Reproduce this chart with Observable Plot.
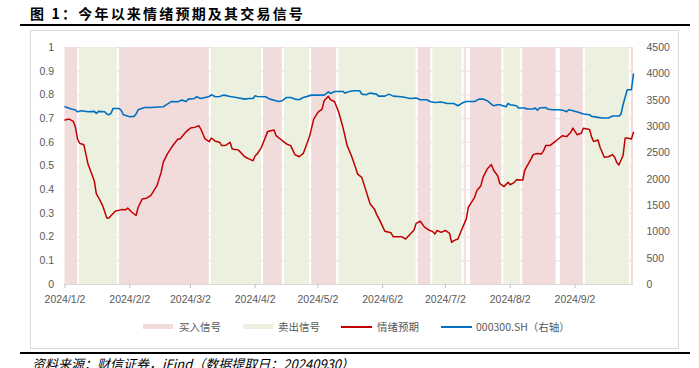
<!DOCTYPE html>
<html><head><meta charset="utf-8">
<script src="https://cdn.jsdelivr.net/npm/d3@7"></script>
<script src="https://cdn.jsdelivr.net/npm/@observablehq/plot@0.6"></script>
<style>
body{margin:0;width:699px;height:368px;overflow:hidden;background:#fff;position:relative;font-family:"Liberation Sans","Noto Sans CJK SC",sans-serif;}
#title{position:absolute;left:30px;top:3px;font-family:"Noto Sans CJK SC",sans-serif;font-weight:bold;font-size:14px;line-height:20px;letter-spacing:2.2px;color:#000;white-space:nowrap;}
#tline{position:absolute;left:20px;top:24px;width:670px;height:0;border-top:2px solid #000;}
#frame{position:absolute;left:30px;top:30px;width:647px;height:317px;border:1px solid #d9d9d9;box-sizing:content-box;}
#chart{position:absolute;left:0;top:32px;}
.lg{position:absolute;top:319px;font-size:10.5px;line-height:15px;color:#595959;white-space:nowrap;font-family:"Noto Sans CJK SC",sans-serif;}
.sw{position:absolute;}
#bline{position:absolute;left:20px;top:352px;width:670px;height:0;border-top:2px solid #000;}
#caption{position:absolute;left:32px;top:355px;font-family:"Noto Sans CJK SC",serif;font-style:italic;font-size:13px;line-height:18px;color:#000;white-space:nowrap;}
</style></head>
<body>
<div id="title">图 1：今年以来情绪预期及其交易信号</div>
<div id="tline"></div>
<div id="frame"></div>
<div id="chart"></div>
<div class="sw" style="left:143px;top:324px;width:30px;height:5px;background:#f2dcdb"></div>
<div class="lg" style="left:179px">买入信号</div>
<div class="sw" style="left:243px;top:324px;width:30px;height:5px;background:#ebf1de"></div>
<div class="lg" style="left:278px">卖出信号</div>
<div class="sw" style="left:341px;top:325.5px;width:31px;height:2px;background:#c00000"></div>
<div class="lg" style="left:377px">情绪预期</div>
<div class="sw" style="left:441px;top:325.5px;width:31px;height:2px;background:#0070c0"></div>
<div class="lg" style="left:476px">000300.SH（右轴）</div>
<div id="bline"></div>
<div id="caption">资料来源：财信证券，iFind（数据提取日：20240930）</div>
<script>
// ---- data ----
const bandStart = ["01-02","01-09","01-28","03-12","04-06","04-16","04-29","05-12","06-19","06-26","07-11","07-14","07-30","08-08","08-26","09-07","09-29"];
const bandEnd   = ["01-08","01-27","03-11","04-05","04-15","04-28","05-11","06-18","06-25","07-10","07-12","07-29","08-07","08-24","09-06","09-28","09-30"];
const bandType  = ["买入","卖出","买入","卖出","买入","卖出","买入","卖出","买入","卖出","买入","买入","卖出","买入","买入","卖出","买入"];

const sentDates = ["01-02","01-04","01-06","01-07","01-08","01-09","01-11","01-12","01-13","01-16","01-17","01-18","01-20","01-22","01-23","01-25","01-26","01-29","01-31","02-01","02-03","02-05","02-06","02-08","02-10","02-12","02-13","02-15","02-17","02-18","02-20","02-22","02-25","02-26","02-28","02-29","03-02","03-04","03-06","03-07","03-09","03-11","03-12","03-14","03-16","03-17","03-19","03-21","03-22","03-25","03-28","03-30","04-01","04-02","04-03","04-05","04-08","04-11","04-12","04-14","04-17","04-19","04-21","04-23","04-25","04-28","04-30","05-02","05-04","05-05","05-07","05-08","05-10","05-12","05-14","05-16","05-18","05-20","05-21","05-23","05-25","05-27","05-29","05-30","06-01","06-03","06-06","06-07","06-10","06-11","06-13","06-15","06-17","06-18","06-20","06-22","06-24","06-26","06-27","06-28","06-30","07-02","07-04","07-05","07-06","07-08","07-10","07-12","07-13","07-14","07-16","07-17","07-19","07-20","07-22","07-24","07-25","07-27","07-28","07-30","08-01","08-02","08-04","08-05","08-08","08-09","08-12","08-13","08-15","08-17","08-18","08-19","08-21","08-23","08-25","08-27","08-29","08-31","09-01","09-03","09-05","09-06","09-09","09-10","09-11","09-13","09-14","09-16","09-18","09-20","09-21","09-22","09-23","09-25","09-26","09-27","09-29","09-30"];
const sentValues = [0.694,0.698,0.688,0.663,0.614,0.596,0.59,0.55,0.508,0.438,0.382,0.368,0.333,0.281,0.281,0.30,0.309,0.316,0.315,0.323,0.305,0.291,0.326,0.361,0.364,0.375,0.389,0.417,0.473,0.515,0.551,0.579,0.614,0.614,0.635,0.645,0.66,0.663,0.67,0.656,0.614,0.603,0.618,0.604,0.60,0.586,0.588,0.60,0.572,0.567,0.539,0.53,0.522,0.543,0.551,0.579,0.646,0.652,0.628,0.614,0.593,0.586,0.548,0.539,0.553,0.624,0.698,0.726,0.74,0.775,0.794,0.78,0.771,0.726,0.663,0.586,0.544,0.494,0.466,0.452,0.396,0.34,0.319,0.298,0.263,0.225,0.218,0.202,0.202,0.202,0.192,0.211,0.23,0.258,0.267,0.242,0.23,0.223,0.213,0.228,0.22,0.228,0.216,0.178,0.185,0.192,0.235,0.277,0.326,0.34,0.368,0.396,0.417,0.452,0.487,0.506,0.483,0.459,0.427,0.413,0.431,0.421,0.431,0.442,0.441,0.483,0.53,0.548,0.553,0.551,0.565,0.586,0.586,0.60,0.614,0.628,0.624,0.642,0.66,0.632,0.638,0.659,0.654,0.621,0.603,0.61,0.579,0.537,0.539,0.548,0.537,0.515,0.504,0.544,0.618,0.618,0.614,0.642];

const csiDates = ["01-02","01-05","01-07","01-08","01-10","01-13","01-16","01-17","01-18","01-21","01-22","01-23","01-24","01-25","01-28","01-29","01-30","02-02","02-04","02-05","02-06","02-09","02-12","02-18","02-20","02-22","02-25","02-27","02-29","03-01","03-04","03-05","03-07","03-09","03-11","03-12","03-14","03-16","03-18","03-21","03-24","03-28","03-30","04-01","04-02","04-03","04-07","04-09","04-12","04-13","04-15","04-17","04-19","04-21","04-23","04-25","04-29","05-02","05-05","05-07","05-08","05-10","05-14","05-15","05-17","05-19","05-22","05-23","05-25","05-27","05-30","05-31","06-03","06-05","06-07","06-11","06-13","06-15","06-18","06-20","06-23","06-25","06-27","06-30","07-03","07-06","07-08","07-10","07-12","07-16","07-18","07-20","07-22","07-24","07-25","07-27","07-28","07-31","08-01","08-02","08-05","08-06","08-09","08-10","08-13","08-14","08-15","08-16","08-19","08-20","08-22","08-26","08-28","08-29","08-30","09-01","09-04","09-06","09-09","09-10","09-13","09-15","09-18","09-20","09-23","09-24","09-25","09-27","09-29","09-30"];
const csiValues = [3375,3331,3312,3280,3299,3280,3287,3249,3287,3280,3236,3223,3249,3343,3343,3299,3223,3185,3192,3236,3318,3362,3362,3375,3426,3476,3470,3501,3476,3520,3533,3565,3533,3552,3571,3602,3565,3571,3596,3571,3552,3520,3533,3533,3584,3571,3565,3520,3489,3476,3489,3552,3552,3520,3508,3552,3596,3596,3596,3659,3628,3665,3665,3634,3665,3678,3678,3615,3602,3634,3615,3577,3577,3615,3577,3565,3552,3533,3539,3508,3508,3470,3457,3464,3438,3438,3394,3445,3476,3476,3520,3520,3489,3426,3394,3413,3413,3375,3438,3413,3394,3350,3350,3331,3331,3350,3312,3350,3362,3331,3318,3318,3299,3280,3318,3299,3267,3236,3223,3192,3173,3160,3160,3198,3198,3236,3413,3698,3698,3994];

const xTickDates = ["01-02","02-02","03-02","04-02","05-02","06-02","07-02","08-02","09-02"];
const leftTicks = [0,0.1,0.2,0.3,0.4,0.5,0.6,0.7,0.8,0.9,1];
const rightTicks = [0,500,1000,1500,2000,2500,3000,3500,4000,4500];
const rightMax = 4500;

// ---- build ----
const P = s => new Date("2024-" + s + "T00:00:00Z");
const bands = bandStart.map((s,i) => ({s: P(s), e: P(bandEnd[i]), t: bandType[i]}));
const sent = sentDates.map((d,i) => ({d: P(d), v: sentValues[i]}));
const csi = csiDates.map((d,i) => ({d: P(d), v: csiValues[i]}));
const xTicks = xTickDates.map(P);
const fmt = d => `${d.getUTCFullYear()}/${d.getUTCMonth()+1}/${d.getUTCDate()}`;
const grey = "#595959";

const chart = Plot.plot({
  width: 699, height: 278,
  marginTop: 15, marginBottom: 26, marginLeft: 64.5, marginRight: 66,
  x: {type: "utc", domain: [P("01-02"), P("09-30")]},
  y: {domain: [0, 1]},
  style: {background: "transparent", fontFamily: "'Liberation Sans', sans-serif", fontSize: "10.5px", color: grey},
  marks: [
    Plot.ruleY(leftTicks, {stroke: "#d9d9d9", strokeWidth: 0.8}),
    Plot.rect(bands.filter(b => b.t === "买入"), {x1: "s", x2: "e", fill: "#f2dcdb"}),
    Plot.rect(bands.filter(b => b.t === "卖出"), {x1: "s", x2: "e", fill: "#ebf1de"}),
    Plot.ruleY([0], {stroke: "#d9d9d9", strokeWidth: 1}),
    Plot.axisX({ticks: xTicks, tickFormat: fmt, tickSize: 4, tickPadding: 7, stroke: "#bfbfbf", fill: grey, label: null}),
    Plot.axisY({ticks: leftTicks, tickSize: 0, tickPadding: 11, tickFormat: d => String(+d.toFixed(1)), fill: grey, label: null}),
    Plot.axisY({anchor: "right", ticks: rightTicks.map(v => v / rightMax), tickSize: 0, tickPadding: 13, tickFormat: d => String(Math.round(d * rightMax)), fill: grey, label: null}),
    Plot.line(sent, {x: "d", y: "v", stroke: "#c00000", strokeWidth: 1.5}),
    Plot.line(csi, {x: "d", y: d => d.v / rightMax, stroke: "#0070c0", strokeWidth: 1.6})
  ]
});
document.getElementById("chart").appendChild(chart);
</script>
</body></html>
